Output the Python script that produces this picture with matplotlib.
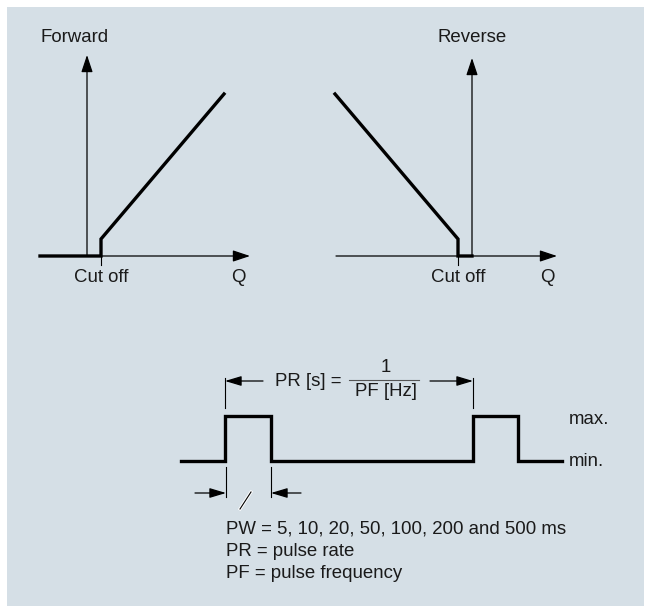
import matplotlib.pyplot as plt
from matplotlib.patches import Rectangle

plt.rcParams['font.family'] = ['Liberation Sans', 'DejaVu Sans']

# everything is laid out in pixel coordinates of the 646x606 picture
bg = '#d5dfe6'

# forward characteristic
fwd_axis_x = 87
fwd_curve_x = [40, 101, 101, 224]
fwd_curve_y = [256, 256, 239, 94]
fwd_cutoff = 101

# reverse characteristic
rev_axis_x = 472
rev_curve_x = [335, 458, 458, 472]
rev_curve_y = [94, 239, 256, 256]
rev_cutoff = 458

# pulse train
pulse_x = [181, 225, 225, 271, 271, 473, 473, 518, 518, 562]
pulse_y = [461, 461, 416, 416, 461, 461, 416, 416, 461, 461]

legend_lines = ['PW = 5, 10, 20, 50, 100, 200 and 500 ms',
                'PR = pulse rate',
                'PF = pulse frequency']

fig = plt.figure(figsize=(6.46, 6.06), dpi=100)
fig.patch.set_facecolor('white')
ax = fig.add_axes([0, 0, 1, 1])
ax.set_xlim(0, 646)
ax.set_ylim(606, 0)
ax.axis('off')
ax.add_patch(Rectangle((7, 7), 637, 610, facecolor=bg, edgecolor='none'))

fs = 13.4
tc = '#1a1a1a'
arr = dict(arrowstyle='-|>,head_length=1.05,head_width=0.35', mutation_scale=10,
           color='black', lw=0.9, shrinkA=0, shrinkB=0)
arr_small = dict(arrowstyle='-|>,head_length=1.0,head_width=0.3', mutation_scale=10,
                 color='black', lw=0.9, shrinkA=0, shrinkB=0)

def arrow(x0, y0, x1, y1, props=arr):
    ax.annotate('', xy=(x1, y1), xytext=(x0, y0), arrowprops=props)

# forward plot
arrow(fwd_axis_x, 256, fwd_axis_x, 55)
arrow(40, 256, 250, 256)
ax.plot([fwd_cutoff, fwd_cutoff], [256, 265], color='black', lw=0.8)
ax.plot(fwd_curve_x, fwd_curve_y, color='black', lw=2.4, solid_joinstyle='miter')
ax.text(40, 38, 'Forward', fontsize=fs, ha='left', va='center', color=tc)
ax.text(fwd_cutoff, 278, 'Cut off', fontsize=fs, ha='center', va='center', color=tc)
ax.text(238, 278, 'Q', fontsize=fs, ha='center', va='center', color=tc)

# reverse plot
arrow(rev_axis_x, 256, rev_axis_x, 58)
arrow(336, 256, 557, 256)
ax.plot([rev_cutoff, rev_cutoff], [256, 265], color='black', lw=0.8)
ax.plot(rev_curve_x, rev_curve_y, color='black', lw=2.4, solid_joinstyle='miter')
ax.text(rev_axis_x, 38, 'Reverse', fontsize=fs, ha='center', va='center', color=tc)
ax.text(rev_cutoff, 278, 'Cut off', fontsize=fs, ha='center', va='center', color=tc)
ax.text(547, 278, 'Q', fontsize=fs, ha='center', va='center', color=tc)

# pulse train
ax.plot(pulse_x, pulse_y, color='black', lw=2.4, solid_joinstyle='miter')
ax.text(569, 419, 'max.', fontsize=fs, ha='left', va='center', color=tc)
ax.text(569, 462, 'min.', fontsize=fs, ha='left', va='center', color=tc)

# PR dimension
ax.plot([225, 225], [378, 408], color='black', lw=0.8)
ax.plot([473, 473], [378, 408], color='black', lw=0.8)
arrow(263, 381, 225, 381, arr_small)
arrow(430, 381, 473, 381, arr_small)
ax.text(275, 381, 'PR [s] =', fontsize=fs, ha='left', va='center', color=tc)
ax.plot([349, 419], [380, 380], color='#555555', lw=0.8)
ax.text(386, 368, '1', fontsize=fs, ha='center', va='center', color=tc)
ax.text(386, 392, 'PF [Hz]', fontsize=fs, ha='center', va='center', color=tc)

# PW dimension
ax.plot([226, 226], [467, 497], color='black', lw=0.8)
ax.plot([271, 271], [467, 497], color='black', lw=0.8)
arrow(195, 493, 226, 493, arr_small)
arrow(301, 493, 271, 493, arr_small)
ax.plot([240, 251], [509, 492], color='white', lw=2.2)
ax.plot([240, 251], [509, 492], color='black', lw=0.8)

for i, line in enumerate(legend_lines):
    ax.text(226, 529 + 22.5 * i, line, fontsize=fs, ha='left', va='center', color=tc)

fig.savefig('out.png', dpi=100, facecolor='white')
